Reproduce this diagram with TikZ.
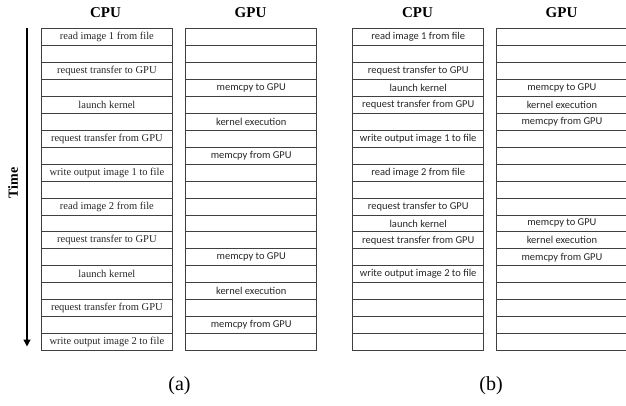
\documentclass[tikz,border=0pt]{standalone}
\usepackage{fontspec}
\setmainfont{Liberation Serif}
\newfontfamily\calibfont{Carlito}
\usetikzlibrary{arrows.meta}
\begin{document}
\begin{tikzpicture}[x=1pt,y=-1pt,
  cell/.style={draw=black!75, line width=0.8pt, minimum width=131pt, minimum height=16.93pt,
    inner sep=0pt, anchor=north west, text=black!85},
  serifcell/.style={cell, font=\fontsize{10.5}{12}\selectfont},
  sanscell/.style={cell, font=\calibfont\fontsize{10.5}{12}\selectfont},
  header/.style={font=\bfseries\fontsize{15}{17}\selectfont},
  sublabel/.style={font=\fontsize{20}{22}\selectfont},
  timearrow/.style={line width=1.3pt, -{Triangle[length=7pt,width=7pt]}}]
\useasboundingbox (0,0) rectangle (626,405);
% panel (a)
\foreach \t [count=\i from 0] in {read image 1 from file,,request transfer to GPU,,launch kernel,,request transfer from GPU,,write output image 1 to file,,read image 2 from file,,request transfer to GPU,,launch kernel,,request transfer from GPU,,write output image 2 to file}
  \node[serifcell] (acpu\i) at (41,28.3+16.93*\i) {\t};
\foreach \t [count=\i from 0] in {,,,memcpy to GPU,,kernel execution,,memcpy from GPU,,,,,,memcpy to GPU,,kernel execution,,memcpy from GPU,}
  \node[sanscell] (agpu\i) at (185.3,28.3+16.93*\i) {\t};
% panel (b)
\foreach \t [count=\i from 0] in {read image 1 from file,,request transfer to GPU,launch kernel,request transfer from GPU,,write output image 1 to file,,read image 2 from file,,request transfer to GPU,launch kernel,request transfer from GPU,,write output image 2 to file,,,,}
  \node[sanscell] (bcpu\i) at (352.3,28.3+16.93*\i) {\t};
\foreach \t [count=\i from 0] in {,,,memcpy to GPU,kernel execution,memcpy from GPU,,,,,,memcpy to GPU,kernel execution,memcpy from GPU,,,,,}
  \node[sanscell] (bgpu\i) at (496,28.3+16.93*\i) {\t};
% headers
\node[header] (ha1) at (105.5,13) {CPU};
\node[header] (ha2) at (250.5,13) {GPU};
\node[header] (hb1) at (417.5,13) {CPU};
\node[header] (hb2) at (561.5,13) {GPU};
% time arrow
\coordinate (tstart) at (27,28.3);
\coordinate (tend) at (27,346.5);
\draw[timearrow] (tstart) -- (tend);
\node[font=\bfseries\fontsize{14}{16}\selectfont, rotate=90] (timelbl) at (13,183) {Time};
% sub labels
\node[sublabel] (la) at (179.5,386) {(a)};
\node[sublabel] (lb) at (491,386) {(b)};
\end{tikzpicture}
\end{document}
